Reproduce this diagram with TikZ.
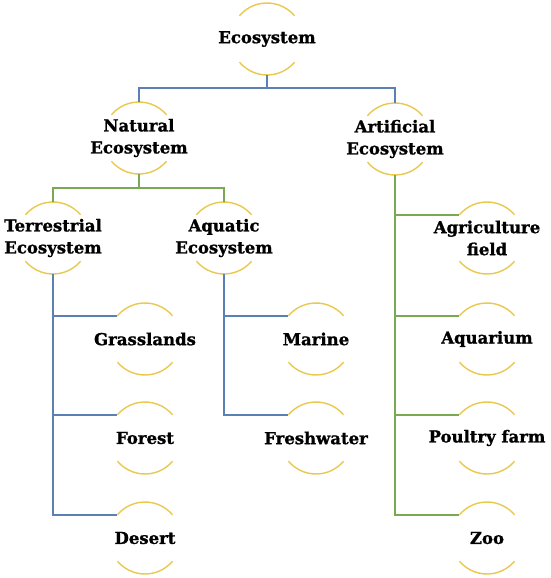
\documentclass[tikz,border=0pt]{standalone}
\usepackage{fontspec}
\setmainfont{DejaVu Serif}[BoldFeatures={FakeBold=1.2}]
\usetikzlibrary{positioning}

\definecolor{ringgold}{HTML}{E9C84E}
\definecolor{linkblue}{HTML}{5B80B4}
\definecolor{linkgreen}{HTML}{7BA852}

\begin{document}
\begin{tikzpicture}[x=1pt,y=1pt,
  ring/.style={circle,minimum size=72pt,inner sep=0pt,outer sep=0pt},
  txt/.style={font=\fontsize{16.5}{22}\selectfont\bfseries,align=center,text=black},
  ringarc/.style={color=ringgold,line width=1.4pt},
  bluelink/.style={color=linkblue,line width=1.3pt},
  greenlink/.style={color=linkgreen,line width=1.3pt}]

\def\ringr{36}

\useasboundingbox (0,0) rectangle (550,-578);

\node[ring,label={[txt]center:Ecosystem}] (eco) at (267,-39) {};

\node[ring,label={[txt]center:Natural\\Ecosystem}] (nat) at (139,-138) {};
\node[ring,label={[txt]center:Artificial\\Ecosystem}] (art) at (395,-139) {};

\node[ring,label={[txt]center:Terrestrial\\Ecosystem}] (terr) at (53,-238) {};
\node[ring,label={[txt]center:Aquatic\\Ecosystem}] (aqua) at (224,-238) {};
\node[ring,label={[txt]center:Agriculture\\field}] (agri) at (487,-238) {};

\node[ring,label={[txt]center:Grasslands}] (grass) at (145,-339) {};
\node[ring,label={[txt]center:Forest}] (forest) at (145,-438) {};
\node[ring,label={[txt]center:Desert}] (desert) at (145,-538) {};

\node[ring,label={[txt]center:Marine}] (marine) at (316,-339) {};
\node[ring,label={[txt]center:Freshwater}] (fresh) at (316,-438) {};

\node[ring,label={[txt]center:Aquarium}] (aquar) at (487,-339) {};
\node[ring,label={[txt]center:Poultry farm}] (poultry) at (487,-438) {};
\node[ring,label={[txt]center:Zoo}] (zoo) at (487,-538) {};

% gold half rings above and below each label
\foreach \n in {eco,nat,art,terr,aqua,agri,grass,forest,desert,marine,fresh,aquar,poultry,zoo}{
  \draw[ringarc] (\n.40) arc[start angle=40,end angle=140,radius=\ringr pt];
  \draw[ringarc] (\n.220) arc[start angle=220,end angle=320,radius=\ringr pt];
}

\draw[bluelink] (eco.south) -- ++(0,-13) -| (nat.north);
\draw[bluelink] (eco.south) -- ++(0,-13) -| (art.north);

\draw[greenlink] (nat.south) -- ++(0,-14) -| (terr.north);
\draw[greenlink] (nat.south) -- ++(0,-14) -| (aqua.north);

\foreach \n in {grass,forest,desert}
  \draw[bluelink] (terr.south) |- (\n.140);
\foreach \n in {marine,fresh}
  \draw[bluelink] (aqua.south) |- (\n.140);
\foreach \n in {agri,aquar,poultry,zoo}
  \draw[greenlink] (art.south) |- (\n.140);

\end{tikzpicture}
\end{document}
